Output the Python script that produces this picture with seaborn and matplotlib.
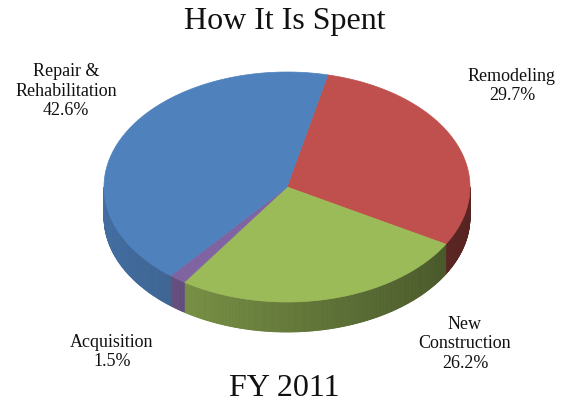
import numpy as np
import matplotlib
matplotlib.use("Agg")
import matplotlib.pyplot as plt
from matplotlib.collections import PolyCollection
from matplotlib.patches import Polygon
from matplotlib.colors import to_rgb
import seaborn as sns

# Spending shares, listed clockwise starting just right of twelve o'clock
categories = ["Remodeling", "New\nConstruction", "Acquisition", "Repair &\nRehabilitation"]
shares = [29.7, 26.2, 1.5, 42.6]
colors = ["#C0504D", "#9BBB59", "#8064A2", "#4F81BD"]
label_xy = [(512, 86), (465, 344), (112, 352), (66, 91)]

sns.set_theme(style="white")
plt.rcParams["font.family"] = ["Liberation Serif", "DejaVu Serif"]

fig = plt.figure(figsize=(5.74, 4.06), dpi=100)
ax = fig.add_axes([0, 0, 1, 1])
ax.set_xlim(0, 574)
ax.set_ylim(406, 0)
ax.axis("off")

# Tilted pie geometry (pixel units, y pointing down)
cx, cy, rx, ry, depth = 287, 188, 183, 115, 30
start = 12.9  # degrees clockwise from twelve o'clock


def rim(phi_deg, dy=0.0):
    p = np.radians(phi_deg)
    return cx + rx * np.sin(p), cy - ry * np.cos(p) + dy


total = sum(shares)
bounds = start + 360 * np.concatenate([[0], np.cumsum(shares)]) / total

# Side walls: only the front half (90..270 deg) is visible
quads, quad_colors = [], []
for i, base in enumerate(colors):
    lo, hi = max(bounds[i], 90), min(bounds[i + 1], 270)
    if hi <= lo:
        continue
    steps = np.linspace(lo, hi, max(2, int((hi - lo) / 0.5) + 1))
    rgb = np.array(to_rgb(base))
    for a, b in zip(steps[:-1], steps[1:]):
        xa, ya = rim(a)
        xb, yb = rim(b)
        quads.append([(xa, ya), (xb, yb), (xb, yb + depth), (xa, ya + depth)])
        mid = np.radians((a + b) / 2)
        shade = 0.65 - 0.2 * np.sin(mid)
        quad_colors.append(tuple(np.clip(rgb * shade, 0, 1)))
ax.add_collection(PolyCollection(quads, facecolors=quad_colors,
                                 edgecolors=quad_colors, linewidths=0.6))

# Top faces
for i, base in enumerate(colors):
    phis = np.linspace(bounds[i], bounds[i + 1], 200)
    xs, ys = rim(phis)
    pts = np.column_stack([np.r_[cx, xs], np.r_[cy, ys]])
    ax.add_patch(Polygon(pts, closed=True, facecolor=base,
                         edgecolor=base, linewidth=0.5))

# Slice labels
for name, share, (lx, ly) in zip(categories, shares, label_xy):
    ax.text(lx, ly, f"{name}\n{share:.1f}%", ha="center", va="center",
            fontsize=13, linespacing=1.2, color="#111111")

ax.text(285, 22, "How It Is Spent", ha="center", va="center",
        fontsize=23, color="#111111")
ax.text(284, 389, "FY 2011", ha="center", va="center",
        fontsize=23, color="#111111")

fig.savefig("out.png", dpi=100)
